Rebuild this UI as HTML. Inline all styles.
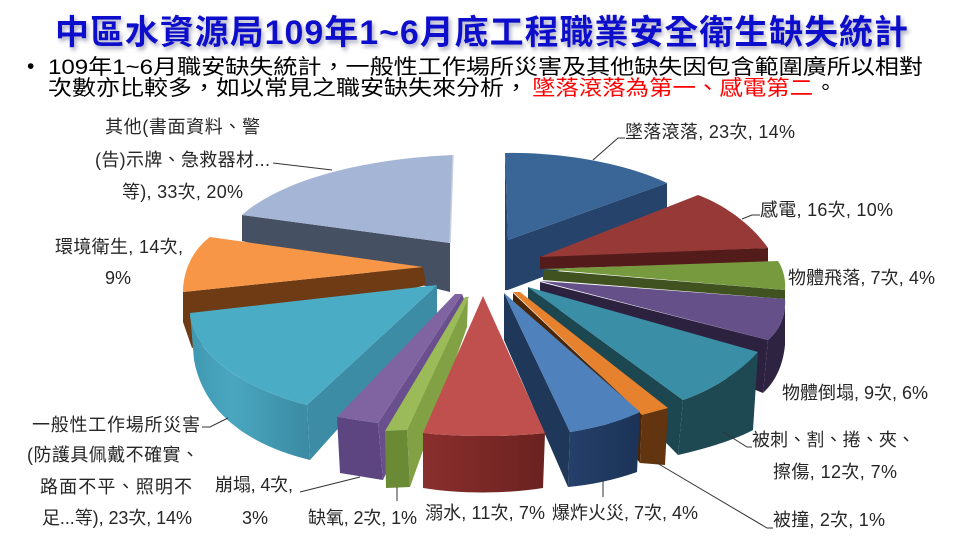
<!DOCTYPE html>
<html>
<head>
<meta charset="utf-8">
<style>
  html,body{margin:0;padding:0;background:#fff;}
  svg{display:block;}
  .lb{font-family:"Liberation Sans","Noto Sans CJK TC",sans-serif;font-size:18px;fill:#262626;}
  .bt{font-family:"Liberation Sans","Noto Sans CJK TC",sans-serif;font-size:21px;fill:#000;}
  .tt{font-family:"Liberation Sans","Noto Sans CJK TC",sans-serif;font-size:34px;font-weight:bold;fill:#1111cc;}
</style>
</head>
<body>
<svg width="960" height="540" viewBox="0 0 960 540" xmlns="http://www.w3.org/2000/svg">
  <defs>
    <filter id="sh" x="-3%" y="-40%" width="106%" height="180%">
      <feGaussianBlur in="SourceAlpha" stdDeviation="2.2"/>
      <feOffset dx="2" dy="3" result="b"/>
      <feFlood flood-color="#9c9cb4" flood-opacity="0.85"/>
      <feComposite in2="b" operator="in"/>
      <feMerge><feMergeNode/><feMergeNode in="SourceGraphic"/></feMerge>
    </filter>
    <linearGradient id="gCyan" x1="0" y1="0" x2="1" y2="0">
      <stop offset="0" stop-color="#3f98b1"/>
      <stop offset="0.35" stop-color="#4aa6bf"/>
      <stop offset="1" stop-color="#3a8aa2"/>
    </linearGradient>
    <linearGradient id="gRed" x1="0" y1="0" x2="1" y2="0">
      <stop offset="0" stop-color="#8a2f2d"/>
      <stop offset="0.5" stop-color="#7a2826"/>
      <stop offset="1" stop-color="#6a2220"/>
    </linearGradient>
    <linearGradient id="gBlue" x1="0" y1="0" x2="1" y2="0">
      <stop offset="0" stop-color="#24406a"/>
      <stop offset="1" stop-color="#1c3357"/>
    </linearGradient>
  </defs>

  <!-- Title -->
  <text class="tt" x="55" y="44" textLength="853" filter="url(#sh)">中區水資源局109年1~6月底工程職業安全衛生缺失統計</text>

  <!-- Bullet text -->
  <text class="bt" x="27" y="73" font-size="20">•</text>
  <text class="bt" x="48" y="74" textLength="875" lengthAdjust="spacingAndGlyphs">109年1~6月職安缺失統計，一般性工作場所災害及其他缺失因包含範圍廣所以相對</text>
  <text class="bt" x="48" y="95" textLength="480" lengthAdjust="spacingAndGlyphs">次數亦比較多，如以常見之職安缺失來分析，</text>
  <text class="bt" x="532" y="95" textLength="281" lengthAdjust="spacingAndGlyphs" style="fill:#ff0000">墜落滾落為第一、感電第二</text>
  <text class="bt" x="815" y="95">。</text>

  <!-- ===== Left-back slices ===== -->
  <path d="M242,215 L450,243 L450,292 L242,241 Z" fill="#465063"/>
  <path d="M242,215 C272,188 340,160 453,155 L450,243 Z" fill="#a5b5d5"/>
  <path d="M453,155 L450,243" stroke="#c8d0e0" stroke-width="1.5"/>

  <path d="M183,292 L423,267 L426,285 L192,348 L183,322 Z" fill="#6e3b14"/>
  <path d="M210,237 C195,248 183,268 183,292 L423,267 Z" fill="#f79646"/>

  <path d="M437,285 L307,405 L310,460 L437,318 Z" fill="#3b8ca4"/>
  <path d="M190,313 C190,345 230,385 307,405 L310,460 C260,448 205,420 194,360 Z" fill="url(#gCyan)"/>
  <path d="M190,313 L437,285 L307,405 C230,385 190,345 190,313 Z" fill="#4bacc6"/>

  <!-- ===== Right slices ===== -->
  <path d="M508,240 L667,183 L667,230 L508,290 Z" fill="#26446b"/>
  <path d="M505,153 L508,240 L508,290 L505,290 Z" fill="#26446b"/>
  <path d="M505,153 C560,152 625,163 667,183 L508,240 Z" fill="#3a6597"/>

  <path d="M540,256 L768,248 L768,262 L540,269 Z" fill="#531c1b"/>
  <path d="M540,257 L698,195 C725,205 752,225 768,248 Z" fill="#973a37"/>

  <path d="M543,270 L785,290 L785,299 L543,280 Z" fill="#3f5220"/>
  <path d="M543,269 L778,261 C783,268 786,280 785,290 Z" fill="#789a3e"/>

  <path d="M540,282 L768,340 L763,393 L540,302 Z" fill="#2d2140"/>
  <path d="M785,299 C786,315 780,330 768,340 L763,393 C775,382 783,366 785,345 Z" fill="#2f2342"/>
  <path d="M540,281 L785,299 C786,315 780,330 768,340 Z" fill="#66508a"/>

  <path d="M528,287 L683,400 L678,455 L528,302 Z" fill="#1c4650"/>
  <path d="M683,400 C712,390 740,372 758,352 L753,430 C730,442 700,450 678,455 Z" fill="#1e4852"/>
  <path d="M528,287 L758,352 C740,372 712,390 683,400 Z" fill="#3a8ea5"/>

  <path d="M513,293 L642,415 L640,463 L513,302 Z" fill="#4a2608"/>
  <path d="M642,415 L668,408 L665,465 L640,463 Z" fill="#623510"/>
  <path d="M513,292 L520,292 L668,408 L642,415 Z" fill="#e6822d"/>

  <path d="M504,293 L570,432 L568,487 L504,340 Z" fill="#1f3759"/>
  <path d="M570,432 C595,428 620,422 640,412 L637,472 C615,480 590,485 568,487 Z" fill="url(#gBlue)"/>
  <path d="M504,293 L640,412 C620,422 595,428 570,432 Z" fill="#4f81bd"/>

  <!-- ===== Front slices ===== -->
  <path d="M462,294 L378,423 L383,480 L466,304 Z" fill="#6a4f8e"/>
  <path d="M337,417 L378,423 L383,480 L340,473 Z" fill="#5d4581"/>
  <path d="M455,294 L462,294 L378,423 L337,417 Z" fill="#8064a2"/>

  <path d="M468,297 L407,430 L410,487 L467,327 Z" fill="#82a145"/>
  <path d="M385,431 L407,430 L410,487 L386,488 Z" fill="#6a8a35"/>
  <path d="M465,297 L469,297 L407,430 L385,431 Z" fill="#9bbb59"/>

  <path d="M423,433 C460,437 510,437 545,433 L543,488 C505,494 460,494 423,488 Z" fill="url(#gRed)"/>
  <path d="M483,296 L545,433 C510,437 460,437 423,433 Z" fill="#c0504d"/>

  <!-- ===== Leader lines ===== -->
  <g fill="none" stroke="#333" stroke-width="1">
    <polyline points="593,160 618,138 625,138"/>
    <polyline points="742,219 752,215 760,215"/>
    <polyline points="273,163 332,170"/>
    <polyline points="202,427 210,427 228,418"/>
    <polyline points="300,492 360,477"/>
    <polyline points="397,487 397,501"/>
    <polyline points="603,480 603,497"/>
    <polyline points="657,463 767,528 773,528"/>
    <polyline points="723,432 747,447 752,447"/>
  </g>

  <!-- ===== Labels ===== -->
  <text class="lb" x="625" y="138" textLength="170">墜落滾落, 23次, 14%</text>
  <text class="lb" x="760" y="216" textLength="133">感電, 16次, 10%</text>
  <text class="lb" x="788" y="284" textLength="147">物體飛落, 7次, 4%</text>
  <text class="lb" x="782" y="399" textLength="146">物體倒塌, 9次, 6%</text>
  <text class="lb" x="752" y="446" textLength="163">被刺、割、捲、夾、</text>
  <text class="lb" x="773" y="478" textLength="124">擦傷, 12次, 7%</text>
  <text class="lb" x="773" y="526" textLength="112">被撞, 2次, 1%</text>
  <text class="lb" x="552" y="519" textLength="146">爆炸火災, 7次, 4%</text>
  <text class="lb" x="425" y="519" textLength="120">溺水, 11次, 7%</text>
  <text class="lb" x="308" y="524" textLength="109">缺氧, 2次, 1%</text>
  <text class="lb" x="215" y="491" textLength="78">崩塌, 4次,</text>
  <text class="lb" x="255" y="524" text-anchor="middle">3%</text>
  <text class="lb" x="32" y="431" textLength="168">一般性工作場所災害</text>
  <text class="lb" x="27" y="461" textLength="172">(防護具佩戴不確實、</text>
  <text class="lb" x="40" y="493" textLength="152">路面不平、照明不</text>
  <text class="lb" x="42" y="524" textLength="150">足...等), 23次, 14%</text>
  <text class="lb" x="105" y="133" textLength="155">其他(書面資料、警</text>
  <text class="lb" x="95" y="166" textLength="175">(告)示牌、急救器材...</text>
  <text class="lb" x="122" y="198" textLength="121">等), 33次, 20%</text>
  <text class="lb" x="55" y="253" textLength="128">環境衛生, 14次,</text>
  <text class="lb" x="118" y="284" text-anchor="middle">9%</text>
</svg>
</body>
</html>
